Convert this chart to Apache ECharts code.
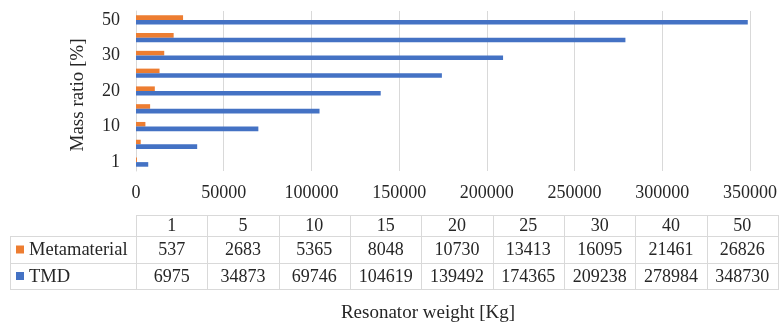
<!DOCTYPE html>
<html>
<head>
<meta charset="utf-8">
<script src="https://cdn.jsdelivr.net/npm/echarts@6/dist/echarts.min.js"></script>
<style>
html,body{margin:0;padding:0;background:#fff;}
#chart{width:780px;height:326px;}
</style>
</head>
<body>
<div id="chart"></div>
<script>
const categories = ['1', '5', '10', '15', '20', '25', '30', '40', '50'];
const metamaterial = [537, 2683, 5365, 8048, 10730, 13413, 16095, 21461, 26826];
const tmd = [6975, 34873, 69746, 104619, 139492, 174365, 209238, 278984, 348730];
const seriesNames = ['Metamaterial', 'TMD'];
const yAxisTitle = 'Mass ratio [%]';
const xAxisTitle = 'Resonator weight [Kg]';

const FONT = '"Liberation Serif", "Times New Roman", serif';
const TXT = '#262626';
const GRID = '#d9d9d9';
const COLORS = ['#ED7D31', '#4472C4'];

const chart = echarts.init(document.getElementById('chart'));

// data table geometry
const x0 = 10, xc = 136, x1 = 778;
const rowY = [215, 236, 263, 289];
const colW = (x1 - xc) / categories.length;
const graphics = [];
function hline(y, xa, xb) {
  graphics.push({type: 'line', silent: true, shape: {x1: xa, y1: y + 0.5, x2: xb, y2: y + 0.5}, style: {stroke: GRID, lineWidth: 1}});
}
function vline(x, ya, yb) {
  graphics.push({type: 'line', silent: true, shape: {x1: Math.round(x) + 0.5, y1: ya, x2: Math.round(x) + 0.5, y2: yb}, style: {stroke: GRID, lineWidth: 1}});
}
hline(rowY[0], xc, x1);
hline(rowY[1], x0, x1);
hline(rowY[2], x0, x1);
hline(rowY[3], x0, x1);
vline(x0, rowY[1], rowY[3] + 1);
for (let i = 0; i <= categories.length; i++) vline(xc + i * colW, rowY[0], rowY[3] + 1);

function cellText(txt, cx, cy) {
  graphics.push({type: 'text', silent: true, x: cx, y: cy,
    style: {text: txt, fill: TXT, font: '18px ' + FONT, textAlign: 'center', textVerticalAlign: 'middle'}});
}
const rowsData = [metamaterial, tmd];
categories.forEach((c, i) => {
  const cx = xc + (i + 0.5) * colW;
  cellText(c, cx, (rowY[0] + rowY[1]) / 2 + 1);
  rowsData.forEach((arr, r) => cellText(String(arr[i]), cx, (rowY[r + 1] + rowY[r + 2]) / 2 + 1));
});
seriesNames.forEach((name, r) => {
  const cy = (rowY[r + 1] + rowY[r + 2]) / 2;
  graphics.push({type: 'rect', silent: true, shape: {x: 16, y: cy - 4, width: 8, height: 8}, style: {fill: COLORS[r]}});
  graphics.push({type: 'text', silent: true, x: 29, y: cy + 1,
    style: {text: name, fill: TXT, font: '18.5px ' + FONT, textAlign: 'left', textVerticalAlign: 'middle'}});
});
// axis titles
graphics.push({type: 'text', silent: true, x: 78, y: 95, rotation: Math.PI / 2,
  style: {text: yAxisTitle, fill: TXT, font: '19px ' + FONT, textAlign: 'center', textVerticalAlign: 'middle'}});
graphics.push({type: 'text', silent: true, x: 428, y: 313,
  style: {text: xAxisTitle, fill: TXT, font: '19px ' + FONT, textAlign: 'center', textVerticalAlign: 'middle'}});

chart.setOption({
  animation: false,
  backgroundColor: '#fff',
  grid: {left: 136, right: 29, top: 11, bottom: 155},
  xAxis: {
    type: 'value', min: 0, max: 350000, interval: 50000,
    axisLine: {show: false}, axisTick: {show: false},
    splitLine: {show: true, lineStyle: {color: GRID, width: 1}},
    axisLabel: {color: TXT, fontFamily: FONT, fontSize: 18, margin: 13, formatter: v => String(v)}
  },
  yAxis: {
    type: 'category', data: categories,
    axisLine: {show: true, lineStyle: {color: GRID}},
    axisTick: {show: false},
    axisLabel: {color: TXT, fontFamily: FONT, fontSize: 18, margin: 16, interval: 1}
  },
  series: [
    {name: seriesNames[0], type: 'bar', data: metamaterial, barWidth: 4.6, barGap: '0%', itemStyle: {color: COLORS[0]}},
    {name: seriesNames[1], type: 'bar', data: tmd, barWidth: 4.6, barGap: '0%', itemStyle: {color: COLORS[1]}}
  ],
  graphic: graphics
});
</script>
</body>
</html>
